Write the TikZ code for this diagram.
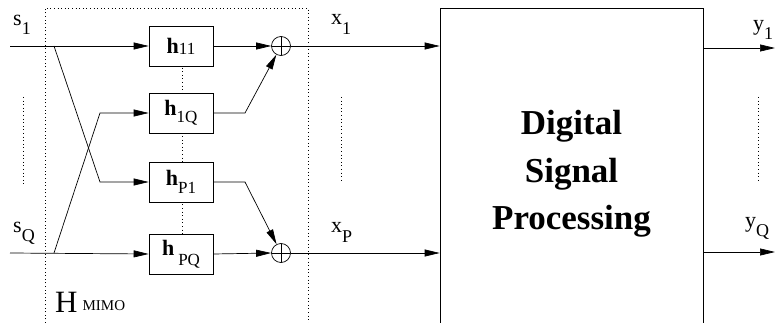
\documentclass[tikz,border=0pt]{standalone}
\usepackage{fontspec}
\setmainfont{Liberation Serif}
\usetikzlibrary{arrows.meta,calc}
\tikzset{
  hbox/.style={draw, fill=white, minimum width=64pt, minimum height=40pt, inner sep=0pt, line width=0.7pt},
  sumnode/.style={circle, draw, fill=white, minimum size=19pt, inner sep=0pt, line width=0.7pt,
    path picture={\draw[line width=0.6pt] (path picture bounding box.north) -- (path picture bounding box.south)
      (path picture bounding box.west) -- (path picture bounding box.east);}},
  sig/.style={-{Triangle[length=15pt,width=7pt]}, line width=0.7pt},
  dotline/.style={dash pattern=on 1pt off 2.6pt, line width=0.9pt},
  lab/.style={anchor=base west, inner sep=0pt, font=\fontsize{22}{22}\selectfont},
  dspbox/.style={draw, line width=0.7pt, minimum width=263pt, minimum height=332pt, align=center,
    font=\bfseries\fontsize{35}{47.5}\selectfont}
}
\newcommand{\sbl}[3][-9pt]{#2\raisebox{#1}{\fontsize{18}{18}\selectfont #3}}
\newcommand{\hlab}[3][-8pt]{{\fontsize{22}{22}\selectfont\bfseries h}\raisebox{#1}{\fontsize{17}{17}\selectfont #3}#2}
\begin{document}
\begin{tikzpicture}[x=1pt,y=-1pt]
\useasboundingbox (0,0) rectangle (775,323);
\clip (0,0) rectangle (775,323);
% dotted MIMO frame and dotted vertical between boxes
\draw[dotline] (45,323) -- (45,8) -- (308,8) -- (308,323);
\draw[dotline] (182,64) -- (182,235);
% filter boxes
\node[hbox] (h11) at (181,46) {\hlab[-1pt]{}{11}};
\node[hbox] (h1Q) at (181,113) {\hlab[-7pt]{}{1Q}};
\node[hbox] (hP1) at (181,182) {\hlab[-8pt]{}{P1}};
\node[hbox] (hPQ) at (181,254) {{\fontsize{22}{22}\selectfont\bfseries h}\hspace{4pt}\raisebox{-10pt}{\fontsize{17}{17}\selectfont PQ}};
% summing nodes
\node[sumnode] (sum1) at (281,46) {};
\node[sumnode] (sum2) at (281,253) {};
% DSP block
\node[dspbox] (dsp) at (571.5,174) {Digital\\Signal\\Processing};
% coordinates
\coordinate (s1in) at (10,46);
\coordinate (sQin) at (10,253);
\coordinate (b1) at (54,46);
\coordinate (bQ) at (54,253);
\coordinate (c1) at (100,182);
\coordinate (cQ) at (100,113);
\coordinate (k1) at (245,113);
\coordinate (k2) at (245,182);
\coordinate (y1end) at (775,48);
\coordinate (yQend) at (775,252);
% connectors
\draw[sig] (s1in) -- (h11.west);
\draw[sig] (sQin) -- (hPQ.west);
\draw[sig] (b1) -- (c1) -- (hP1.west);
\draw[sig] (bQ) -- (cQ) -- (h1Q.west);
\draw[sig] (h11.east) -- (sum1.west);
\draw[sig] (hPQ.east) -- (sum2.west);
\draw[sig] (h1Q.east) -- (k1) -- (sum1);
\draw[sig] (hP1.east) -- (k2) -- (sum2);
\draw[sig] (sum1.east) -- (sum1.east -| dsp.west);
\draw[sig] (sum2.east) -- (sum2.east -| dsp.west);
\draw[sig] (dsp.east |- y1end) -- (y1end);
\draw[sig] (dsp.east |- yQend) -- (yQend);
% dotted "ellipsis" lines
\draw[dotline] (23,97) -- (23,187);
\draw[dotline] (341,97) -- (341,182);
\draw[dotline] (758,97) -- (758,182);
% labels
\node[lab] (ls1) at (13,26) {\sbl{s}{1}};
\node[lab] (lsQ) at (13,232) {\sbl{s}{Q}};
\node[lab] (lx1) at (331,25) {\sbl[-10pt]{x}{1}};
\node[lab] (lxP) at (331,232) {\sbl[-10pt]{x}{P}};
\node[lab] (ly1) at (753,31) {\sbl{y}{1}};
\node[lab] (lyQ) at (745,227) {\sbl{y}{Q}};
\node[anchor=base west, inner sep=0pt] (hmimo) at (55,312) {{\fontsize{31}{31}\selectfont H}\hspace{5pt}\raisebox{1.5pt}{\fontsize{15}{15}\selectfont MIMO}};
\end{tikzpicture}
\end{document}
